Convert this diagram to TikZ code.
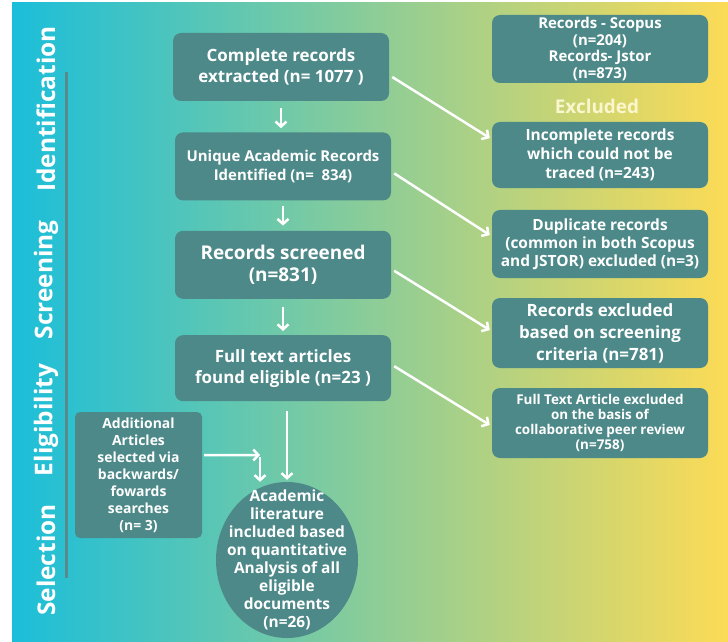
\documentclass[tikz,border=0pt]{standalone}
\usepackage{fontspec}
\setmainfont{Open Sans}
\usetikzlibrary{shapes.geometric,arrows.meta,positioning,calc}

\definecolor{boxteal}{RGB}{78,137,137}
\definecolor{bgcyan}{RGB}{27,190,218}
\definecolor{bggreen}{RGB}{128,204,144}
\definecolor{bgyellow}{RGB}{252,219,86}
\definecolor{rulegray}{RGB}{88,140,140}
\definecolor{exclcol}{RGB}{250,246,205}

\newcommand{\fs}[2]{\bfseries\fontsize{#1}{#2}\selectfont}

\tikzset{
  stagebox/.style={rectangle, rounded corners=8bp, fill=boxteal, text=white,
    align=center, minimum width=216bp, minimum height=68bp, inner sep=2bp},
  flowarrow/.style={draw=white, line width=2.5bp,
    -{Straight Barb[length=5bp,width=11bp]}},
  phase/.style={rotate=90, text=white, font=\fs{24.5}{28}}
}

\begin{document}
\begin{tikzpicture}[x=1bp, y=-1bp]
    \useasboundingbox (0,0) rectangle (728,642);
    \shade[left color=bgcyan, middle color=bggreen, right color=bgyellow] (12,3) rectangle (728,642);

    % stage labels
    \node[phase] (ident)  at (46,109) {Identification};
    \node[phase] (screen) at (46,280) {Screening};
    \node[phase] (elig)   at (46,420) {Eligibility};
    \node[phase] (select) at (46,560) {Selection};
    \draw[rulegray, line width=3bp] (66,72) -- (66,578);

    % main column
    \node[stagebox, font=\fs{17}{21}] (complete) at (281,67) {Complete records\\extracted (n= 1077 )};
    \node[stagebox, font=\fs{15}{19}, below=31bp of complete, xshift=2bp] (unique) {Unique Academic Records\\Identified (n=\ \ 834)};
    \node[stagebox, font=\fs{19}{23}, below=30bp of unique] (screened) {Records screened\\(n=831)};
    \node[stagebox, font=\fs{17}{21}, below=36bp of screened, minimum height=66bp] (eligible) {Full text articles\\found eligible (n=23 )};

    % excluded column
    \node[stagebox, font=\fs{15}{16.5}] (sources) at (600,49) {Records - Scopus\\(n=204)\\Records- Jstor\\(n=873)};
    \node[text=exclcol, font=\fs{19}{22}] (exlabel) at (597,106) {Excluded};
    \node[stagebox, font=\fs{15.5}{19}, minimum height=66bp] (incomplete) at (600,155) {Incomplete records\\which could not be\\traced (n=243)};
    \node[stagebox, font=\fs{15.5}{18}] (duplicate) at (600,244) {Duplicate records\\(common in both Scopus\\and JSTOR) excluded (n=3)};
    \node[stagebox, font=\fs{17}{22}, minimum height=70bp] (screenout) at (600,333) {Records excluded\\based on screening\\criteria (n=781)};
    \node[stagebox, font=\fs{13.5}{15}, minimum height=70bp] (peerout) at (600,423) {Full Text Article excluded\\on the basis of\\collaborative peer review\\(n=758)};

    % selection
    \node[stagebox, font=\fs{14}{17}, minimum width=127bp, minimum height=126bp, rounded corners=5bp] (extra) at (138.5,475) {Additional\\Articles\\selected via\\backwards/\\fowards\\searches\\(n= 3)};
    \node[ellipse, fill=boxteal, text=white, align=center, font=\fs{15.5}{18},
      minimum width=142bp, minimum height=156bp, inner xsep=-12bp, inner ysep=-16bp] (included) at (287,560)
      {Academic\\literature\\included based\\on quantitative\\Analysis of all\\eligible\\documents\\(n=26)};
    \coordinate (merge) at (260,455);

    % arrows
    \draw[flowarrow, shorten <=7bp, shorten >=4bp] (complete.south) -- (complete.south |- unique.north);
    \draw[flowarrow, shorten <=5bp, shorten >=5bp] (unique.south) -- (screened.north);
    \draw[flowarrow, shorten <=8bp, shorten >=4bp] (screened.south) -- (eligible.north);
    \draw[flowarrow, shorten <=10bp, shorten >=2bp] (included.north |- eligible.south) -- (included.north);
    \draw[flowarrow] ([shift={(3bp,-10bp)}]complete.east) -- ([shift={(-2bp,17bp)}]incomplete.west);
    \draw[flowarrow] ([shift={(3bp,-7bp)}]unique.east) -- ([shift={(-2bp,9bp)}]duplicate.west);
    \draw[flowarrow] ([shift={(3bp,-6bp)}]screened.east) -- ([shift={(-2bp,3bp)}]screenout.west);
    \draw[flowarrow] ([shift={(3bp,2bp)}]eligible.east) -- ([shift={(-2bp,-2bp)}]peerout.west);
    \draw[flowarrow, shorten <=2bp] ([yshift=20bp]extra.east) -- (merge);
    \draw[flowarrow, shorten <=2bp] (merge) -- (merge |- included.north);

\end{tikzpicture}
\end{document}
